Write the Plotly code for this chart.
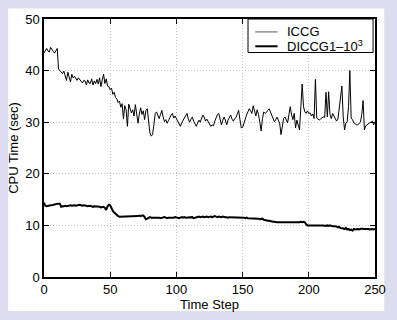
import plotly.graph_objects as go

time_step = list(range(0, 251))

iccg = [43.4, 44.0, 44.3, 43.8, 43.6, 44.5, 44.0, 43.7, 43.4, 43.9, 44.3,
        40.3, 40.0, 39.6, 39.4, 39.9, 39.0, 38.1, 39.7, 38.9, 37.8,
        39.3, 38.6, 38.9, 38.4, 38.1, 38.6, 38.3, 37.9, 37.6, 38.1,
        38.0, 37.2, 38.2, 37.6, 37.5, 38.4, 37.2, 38.0, 37.5, 38.3,
        37.4, 38.6, 36.9, 38.2, 39.3, 37.5, 38.4, 37.0, 36.9, 36.3,
        36.6, 35.4, 35.8, 34.8, 34.5, 33.8, 34.1, 32.9, 33.6, 30.6,
        33.2, 32.5, 29.2, 33.5, 32.8, 31.8, 32.4, 31.2, 33.4, 32.0,
        29.8, 31.6, 32.8, 31.5, 32.2, 30.5, 32.3, 32.6, 30.2, 27.9,
        27.3, 27.6, 29.5, 31.7, 32.0, 31.2, 30.7, 31.5, 32.3, 31.0,
        30.1, 30.5, 29.8, 30.3, 30.9, 31.4, 31.7, 30.8, 31.2, 30.7,
        30.0, 29.4, 29.2, 29.9, 30.4, 31.0, 31.4, 31.7, 30.6, 30.0,
        30.6, 31.0, 30.2, 29.6, 29.2, 29.8, 30.4, 30.0, 30.8, 31.4,
        31.0, 30.2, 30.6, 30.2, 29.6, 29.2, 29.5, 29.3, 30.2, 31.0,
        31.5, 31.7, 30.6, 29.5, 30.3, 31.0, 30.4, 29.5, 30.4, 31.0,
        31.4, 30.6, 30.2, 30.7, 30.9, 31.6, 32.3, 30.5, 28.9, 29.0,
        29.8, 30.9, 31.4, 32.0, 32.6, 32.2, 31.7, 33.2, 32.0, 31.2,
        32.4, 31.5, 30.0, 28.3, 30.7, 32.0, 31.7, 31.9, 32.3, 32.6,
        32.0, 31.4, 30.7, 30.1, 30.5, 31.0, 30.4, 29.8, 27.6, 29.5,
        30.7, 31.0, 30.5, 29.9, 31.5, 33.0, 31.4, 30.5, 31.7, 28.9,
        30.4, 29.5, 28.5, 33.0, 37.4, 33.0, 32.0, 31.7, 32.2, 31.7,
        31.8, 31.2, 31.6, 30.7, 38.3, 30.8, 30.6, 30.4, 30.7, 30.8,
        31.0, 30.9, 35.8, 31.0, 35.9, 31.5, 30.7, 31.7, 31.2, 30.4,
        30.2, 30.6, 32.5, 35.0, 37.0, 31.0, 28.5, 29.8, 30.1, 33.0,
        40.0, 30.8, 30.5, 29.9, 29.6, 29.5, 29.5, 29.8, 30.0, 31.5,
        34.2, 28.5, 29.3, 29.5, 29.8, 29.9, 30.0, 30.2, 29.5, 30.0]

diccg = [14.4, 13.8, 13.7, 13.8, 13.8, 13.9, 13.9, 14.0, 14.1, 14.1, 14.2,
         14.2, 14.2, 13.6, 13.7, 13.8, 13.8, 13.7, 13.8, 13.8, 13.9,
         13.8, 13.9, 13.9, 13.8, 13.9, 13.9, 14.0, 13.9, 13.8, 13.9,
         13.9, 13.8, 13.7, 13.8, 13.8, 13.7, 13.6, 13.7, 13.7, 13.6,
         13.7, 13.6, 13.5, 13.6, 13.6, 13.4, 13.0, 13.7, 14.0, 13.9,
         13.3, 12.8, 12.5, 12.2, 12.0, 11.8, 11.7, 11.7, 11.8, 11.8,
         11.7, 11.8, 11.8, 11.8, 11.7, 11.8, 11.8, 11.8, 11.7, 11.8,
         11.8, 11.9, 11.8, 11.9, 11.9, 11.6, 11.2, 11.3, 11.5, 11.6,
         11.5, 11.5, 11.6, 11.5, 11.5, 11.6, 11.5, 11.4, 11.5, 11.5,
         11.6, 11.5, 11.4, 11.5, 11.5, 11.4, 11.5, 11.5, 11.6, 11.5,
         11.5, 11.4, 11.5, 11.6, 11.5, 11.6, 11.5, 11.5, 11.6, 11.5,
         11.5, 11.6, 11.4, 11.5, 11.6, 11.6, 11.7, 11.6, 11.7, 11.7,
         11.6, 11.7, 11.7, 11.6, 11.7, 11.7, 11.6, 11.7, 11.8, 11.7,
         11.6, 11.7, 11.6, 11.6, 11.7, 11.6, 11.6, 11.6, 11.5, 11.6,
         11.6, 11.6, 11.5, 11.6, 11.6, 11.5, 11.5, 11.6, 11.5, 11.5,
         11.5, 11.4, 11.5, 11.4, 11.4, 11.3, 11.4, 11.3, 11.4, 11.3,
         11.4, 11.3, 11.2, 11.2, 11.3, 11.1, 11.0, 11.0, 10.9, 10.9,
         10.8, 10.8, 10.7, 10.7, 10.6, 10.6, 10.6, 10.6, 10.5, 10.6,
         10.6, 10.6, 10.6, 10.6, 10.6, 10.5, 10.6, 10.6, 10.6, 10.6,
         10.6, 10.6, 10.6, 10.7, 10.6, 10.7, 10.6, 10.2, 10.0, 10.0,
         10.0, 10.0, 10.0, 10.1, 10.0, 10.0, 10.1, 10.1, 10.0, 10.0,
         10.0, 9.9, 10.0, 10.0, 9.9, 10.0, 9.9, 9.9, 9.8, 9.8,
         9.8, 9.6, 9.7, 9.5, 9.5, 9.4, 9.3, 9.5, 9.2, 9.3,
         9.1, 9.2, 9.0, 9.3, 9.2, 9.3, 9.3, 9.2, 9.3, 9.4,
         9.3, 9.3, 9.4, 9.3, 9.3, 9.2, 9.3, 9.3, 9.2, 9.3]

series_names = ["ICCG", "DICCG1\u201310<sup>3</sup>"]
x_ticks = [0, 50, 100, 150, 200, 250]
y_ticks = [0, 10, 20, 30, 40, 50]

W, H = 397, 320
L, R, T, B = 44, 11.5, 15, 35.5
pw, ph = W - L - R, H - T - B

def px_x(p):
    return (p - L) / pw

def px_y(p):
    return (H - B - p) / ph

FONT = "Liberation Sans, Arial, Helvetica, sans-serif"

fig = go.Figure()
fig.add_trace(go.Scatter(x=time_step, y=iccg, mode="lines", name=series_names[0],
                         line=dict(color="black", width=1), showlegend=False))
fig.add_trace(go.Scatter(x=time_step, y=diccg, mode="lines", name=series_names[1],
                         line=dict(color="black", width=2), showlegend=False))

axis_common = dict(showline=True, linecolor="black", linewidth=1.5, mirror="ticks",
                   ticks="inside", ticklen=5, tickwidth=1, tickcolor="black",
                   showgrid=True, gridcolor="#c4c4c4", griddash="1px,2px", gridwidth=1,
                   zeroline=False, tickfont=dict(family=FONT, size=13, color="black"))

fig.update_xaxes(range=[0, 250], tickvals=x_ticks, ticktext=[str(v) for v in x_ticks],
                 title=dict(text="Time Step", font=dict(family=FONT, size=13, color="black"), standoff=2),
                 **axis_common)
fig.update_yaxes(range=[0, 50], tickvals=y_ticks, ticktext=[str(v) for v in y_ticks],
                 title=dict(text="CPU Time (sec)", font=dict(family=FONT, size=13, color="black"), standoff=4),
                 **axis_common)

shapes = [
    # white figure area over lavender page
    dict(type="rect", xref="paper", yref="paper", layer="below",
         x0=px_x(7), x1=px_x(395), y0=px_y(320), y1=px_y(4),
         fillcolor="white", line=dict(width=0)),
    # legend box
    dict(type="rect", xref="paper", yref="paper",
         x0=px_x(254.5), x1=px_x(383.5), y0=px_y(50), y1=px_y(15),
         fillcolor="white", line=dict(color="black", width=1)),
    dict(type="line", xref="paper", yref="paper",
         x0=px_x(262), x1=px_x(285), y0=px_y(28.5), y1=px_y(28.5),
         line=dict(color="#555555", width=1)),
    dict(type="line", xref="paper", yref="paper",
         x0=px_x(262), x1=px_x(285), y0=px_y(43.5), y1=px_y(43.5),
         line=dict(color="black", width=2)),
]
annotations = [
    dict(xref="paper", yref="paper", x=px_x(293), y=px_y(28.5), text=series_names[0],
         xanchor="left", yanchor="middle", showarrow=False,
         font=dict(family=FONT, size=13, color="black")),
    dict(xref="paper", yref="paper", x=px_x(293), y=px_y(43.5), text=series_names[1],
         xanchor="left", yanchor="middle", showarrow=False,
         font=dict(family=FONT, size=13, color="black")),
]

fig.update_layout(width=W, height=H, margin=dict(l=L, r=R, t=T, b=B),
                  paper_bgcolor="#dcdeef", plot_bgcolor="white",
                  shapes=shapes, annotations=annotations, showlegend=False,
                  font=dict(family=FONT, size=13, color="black"))

fig.write_html("out.html", config={"displayModeBar": False},
               post_script="document.body.style.margin='0px';document.body.style.overflow='hidden';")
